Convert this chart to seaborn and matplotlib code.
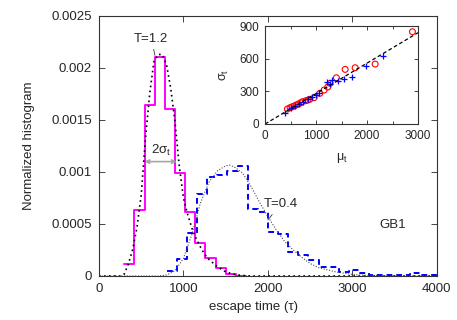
import numpy as np
import matplotlib
matplotlib.use("Agg")
import matplotlib.pyplot as plt
import seaborn as sns

# T=1.2 histogram (magenta), bin edges and heights
t12_edges = [300, 420, 540, 660, 780, 900, 1020, 1140, 1260, 1380, 1500, 1620, 1740]
t12_heights = [0.000112, 0.000635, 0.00164, 0.00211, 0.00161, 0.00099,
               0.00062, 0.00032, 0.00017, 0.000074, 0.00002, 0.000004]

# T=0.4 histogram (blue dashed)
t04_edges = [800, 920, 1040, 1160, 1280, 1400, 1520, 1640, 1760, 1880, 2000, 2120,
             2240, 2360, 2480, 2600, 2720, 2840, 2960, 3080, 3200, 3320, 3440,
             3560, 3680, 3800, 3920, 4040]
t04_heights = [0.00005, 0.00016, 0.00041, 0.00079, 0.00095, 0.00097, 0.00101,
               0.00106, 0.00064, 0.00062, 0.00042, 0.00040, 0.00023, 0.00020,
               0.00015, 0.00009, 0.00009, 0.00004, 0.00006, 0.000025, 0.00001,
               0.00001, 0.00001, 0.00001, 0.00003, 0.00001, 0.00001]

# fitted curves
fit12_x = [0, 250, 300, 350, 400, 450, 500, 550, 600, 650, 700, 750, 800, 850, 900,
           950, 1000, 1050, 1100, 1150, 1200, 1250, 1300, 1400, 1500, 1600, 1700,
           1800, 4000]
fit12_y = [0, 0, 0.00002, 0.00012, 0.00026, 0.00047, 0.00078, 0.00132, 0.00175,
           0.00206, 0.00213, 0.00213, 0.00203, 0.00180, 0.00148, 0.00106, 0.00075,
           0.00059, 0.00046, 0.00036, 0.00028, 0.00021, 0.00016, 0.00009, 0.00004,
           0.000015, 0.000005, 0, 0]
fit04_x = [0, 700, 800, 900, 1000, 1100, 1200, 1300, 1400, 1500, 1550, 1600, 1700,
           1800, 1900, 2000, 2100, 2200, 2300, 2400, 2500, 2600, 2800, 3000, 3200,
           3500, 4000]
fit04_y = [0, 0, 0.00001, 0.00005, 0.00017, 0.00040, 0.00070, 0.00090, 0.00101,
           0.00106, 0.001065, 0.00105, 0.00099, 0.00086, 0.00071, 0.00057, 0.00044,
           0.00033, 0.00025, 0.00018, 0.00012, 0.00008, 0.00004, 0.000015, 0.000005,
           0, 0]

# inset: sigma_t vs mu_t
red_mu = [438, 490, 530, 569, 610, 653, 700, 732, 797, 840, 876, 961, 1072, 1157,
          1230, 1275, 1398, 1569, 1765, 2157, 2888]
red_sigma = [138, 150, 158, 165, 175, 184, 195, 205, 214, 220, 227, 242, 282, 312,
             340, 374, 425, 502, 517, 551, 848]
blue_mu = [392, 510, 588, 667, 751, 849, 916, 994, 1059, 1222, 1280, 1320, 1437,
           1549, 1712, 1986, 2314]
blue_sigma = [104, 150, 165, 184, 205, 227, 251, 266, 288, 389, 370, 404, 398, 410,
              435, 535, 624]
line_mu = [0, 3000]
line_sigma = [0, 840]

sns.set_style("ticks")
plt.rcParams["font.family"] = ["Liberation Sans", "DejaVu Sans"]
plt.rcParams["mathtext.fontset"] = "custom"
plt.rcParams["mathtext.rm"] = "Liberation Sans"
plt.rcParams["mathtext.it"] = "Liberation Sans"
plt.rcParams["mathtext.default"] = "regular"

fig = plt.figure(figsize=(4.57, 3.2), dpi=100)
ax = fig.add_axes([0.2166, 0.1375, 0.7394, 0.8125])

# histograms
sns.histplot(x=t12_edges[:-1], weights=t12_heights, bins=t12_edges, element="step",
             fill=False, color="#ff00ff", linewidth=1.4, ax=ax)
sns.histplot(x=t04_edges[:-1], weights=t04_heights, bins=t04_edges, element="step",
             fill=False, color="#0000ff", linewidth=1.4, linestyle=(0, (3, 2)), ax=ax)

# fits
sns.lineplot(x=fit12_x, y=fit12_y, color="black", linewidth=1.2,
             linestyle=(0, (1, 2)), ax=ax)
sns.lineplot(x=fit04_x, y=fit04_y, color="0.3", linewidth=0.8,
             linestyle=(0, (1, 1.5)), ax=ax)

ax.set_xlim(0, 4000)
ax.set_ylim(0, 0.0025)
ax.set_xticks([0, 1000, 2000, 3000, 4000])
ax.set_yticks([0, 0.0005, 0.001, 0.0015, 0.002, 0.0025])
ax.set_yticklabels(["0", "0.0005", "0.001", "0.0015", "0.002", "0.0025"])
ax.tick_params(direction="in", top=True, right=True, length=4, width=0.6,
               labelsize=9.5, pad=5)
for s in ax.spines.values():
    s.set_linewidth(0.8)
    s.set_color("0.2")
ax.set_xlabel("escape time (τ)", fontsize=9.5)
ax.set_ylabel("Normalized histogram", fontsize=9.5)
ax.xaxis.set_label_coords(0.456, -0.095)
ax.yaxis.set_label_coords(-0.19, 0.5)

# annotations
ax.annotate("T=1.2", xy=(663, 0.00212), xytext=(620, 0.00228), fontsize=9.5,
            ha="center", va="center",
            arrowprops=dict(arrowstyle="-", lw=0.6, color="0.2", shrinkA=1, shrinkB=0))
ax.annotate("", xy=(540, 0.0011), xytext=(920, 0.0011),
            arrowprops=dict(arrowstyle="<->", color="0.65", lw=1.2,
                            shrinkA=0, shrinkB=0, mutation_scale=6))
ax.text(735, 0.00121, r"2$\sigma_t$", fontsize=9.5, ha="center", va="center")
ax.annotate("T=0.4", xy=(2000, 0.00054), xytext=(2150, 0.00069), fontsize=9.5,
            ha="center", va="center",
            arrowprops=dict(arrowstyle="-", lw=0.6, color="0.2", shrinkA=1, shrinkB=0))
ax.text(3480, 0.00049, "GB1", fontsize=9.5, ha="center", va="center")

# inset
axi = fig.add_axes([0.580, 0.6125, 0.335, 0.306])
sns.lineplot(x=line_mu, y=line_sigma, color="black", linewidth=0.9,
             linestyle=(0, (3, 2)), ax=axi)
sns.scatterplot(x=red_mu, y=red_sigma, marker="o", s=18, facecolors="none",
                edgecolor="red", linewidth=0.8, ax=axi)
sns.scatterplot(x=blue_mu, y=blue_sigma, marker="+", s=20, color="blue",
                linewidth=0.9, ax=axi)
axi.set_xlim(0, 3000)
axi.set_ylim(0, 900)
axi.set_xticks([0, 1000, 2000, 3000])
axi.set_xticks([500, 1500, 2500], minor=True)
axi.set_yticks([0, 300, 600, 900])
axi.tick_params(which="both", direction="in", top=True, right=True, length=3,
                width=0.6, labelsize=8.5, pad=4)
axi.tick_params(which="minor", length=2)
for s in axi.spines.values():
    s.set_linewidth(0.8)
    s.set_color("0.2")
axi.set_xlabel(r"$\mu_t$", fontsize=9, labelpad=7)
axi.set_ylabel(r"$\sigma_t$", fontsize=9, labelpad=6)

fig.savefig("out.png", dpi=100)
